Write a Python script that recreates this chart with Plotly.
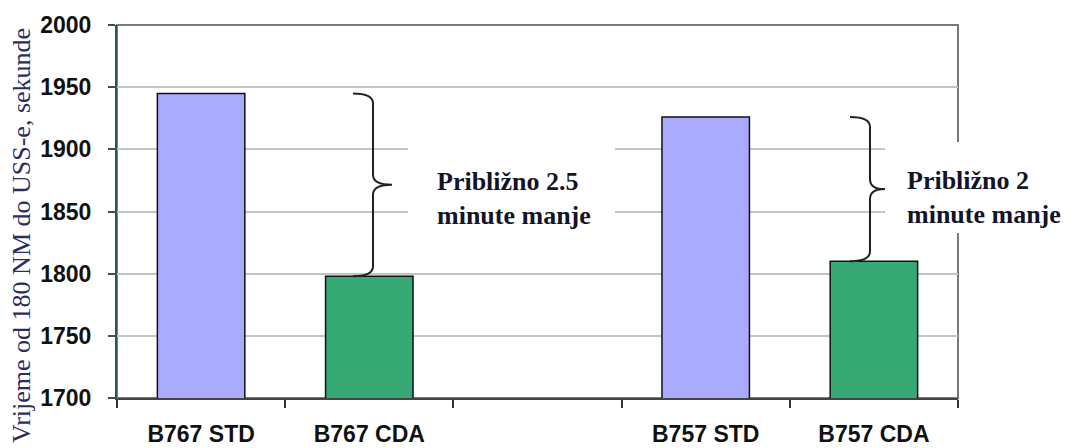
import plotly.graph_objects as go

# ---- data ----
categories = ["B767 STD", "B767 CDA", " ", "B757 STD", "B757 CDA"]
bar_categories = ["B767 STD", "B767 CDA", "B757 STD", "B757 CDA"]
bar_values = [1945, 1798, 1926, 1810]
bar_colors = ["#AAAAFF", "#36A874", "#AAAAFF", "#36A874"]
y_ticks = [1700, 1750, 1800, 1850, 1900, 1950, 2000]
y_title = "Vrijeme od 180 NM do USS-e, sekunde"
note_texts = ["Približno 2.5<br>minute manje", "Približno 2<br>minute manje"]

# page geometry (the page body has an 8px margin)
PAGE_W, PAGE_H, BODY = 1084, 448, 8
L, R, T, B = 117, 958, 25, 398


def px(xpix):
    return (xpix - L) / (R - L)


def py(ypix):
    return (B - ypix) / (B - T)


fig = go.Figure()
fig.add_trace(go.Bar(
    x=bar_categories, y=bar_values,
    marker=dict(color=bar_colors, line=dict(color="#111111", width=1.5)),
    width=0.52, showlegend=False, hoverinfo="x+y",
))

shapes = []
# plot border (top / right)
shapes.append(dict(type="rect", xref="paper", yref="paper", x0=0, x1=1, y0=0, y1=1,
                   line=dict(color="#7a7a7a", width=2), layer="below"))

# white boxes behind notes
for x0, x1 in [(408, 615), (885, 1084)]:
    shapes.append(dict(type="rect", xref="paper", yref="paper",
                       x0=px(x0), x1=px(x1), y0=py(233), y1=py(142),
                       fillcolor="white", line=dict(width=0), layer="above"))


def brace(xl, xv, xt, ytop, ybot, d=8):
    ym = (ytop + ybot) / 2
    return (f"M {xl},{ytop} Q {xv},{ytop} {xv},{ytop - d} "
            f"L {xv},{ym + d} Q {xv},{ym} {xt},{ym} "
            f"Q {xv},{ym} {xv},{ym - d} "
            f"L {xv},{ybot + d} Q {xv},{ybot} {xl},{ybot}")


# braces between STD and CDA values
for (xl, xv, xt), (i_std, i_cda) in [((353, 373, 392), (0, 1)), ((850, 870, 885), (2, 3))]:
    shapes.append(dict(type="path", xref="paper", yref="y",
                       path=brace(px(xl), px(xv), px(xt), bar_values[i_std], bar_values[i_cda]),
                       line=dict(color="#222222", width=2), layer="above"))

annotations = []
for txt, xl, yc in zip(note_texts, [435, 905], [198, 197]):
    annotations.append(dict(
        text=txt, xref="paper", yref="paper", x=px(xl), y=py(yc),
        xanchor="left", yanchor="middle", align="left", showarrow=False,
        font=dict(family="Liberation Serif, Times New Roman", size=26, color="#141428",
                  weight="bold"),
    ))

annotations.append(dict(
    text=y_title, xref="paper", yref="paper", x=px(22), y=py(236),
    xanchor="center", yanchor="middle", textangle=-90, showarrow=False,
    font=dict(family="Liberation Serif, Times New Roman", size=26, color="#2c2c60"),
))

fig.update_layout(
    width=PAGE_W - BODY, height=PAGE_H - BODY,
    margin=dict(l=L - BODY, r=PAGE_W - R, t=T - BODY, b=PAGE_H - B, autoexpand=False),
    paper_bgcolor="white", plot_bgcolor="white",
    shapes=shapes, annotations=annotations,
    bargap=0.48,
)

fig.update_xaxes(
    type="category", categoryorder="array", categoryarray=categories,
    range=[-0.5, len(categories) - 0.5],
    tickson="boundaries", ticks="outside", ticklen=8, tickwidth=1.5, tickcolor="#333333",
    showline=True, linecolor="#444444", linewidth=2,
    showgrid=False, automargin=False,
    tickfont=dict(family="Liberation Sans, Arial", size=23, color="#111111", weight="bold"),
    ticklabelstandoff=14,
)
fig.update_yaxes(
    range=[1700, 2000], tickvals=y_ticks,
    ticks="outside", ticklen=7, tickwidth=1.5, tickcolor="#2d5a45",
    showline=True, linecolor="#2d5a45", linewidth=2,
    showgrid=True, gridcolor="#c4c4c4", gridwidth=1.5,
    zeroline=False, automargin=False,
    tickfont=dict(family="Liberation Sans, Arial", size=23, color="#111111", weight="bold"),
    ticklabelstandoff=12,
)

fig.write_html("out.html")
